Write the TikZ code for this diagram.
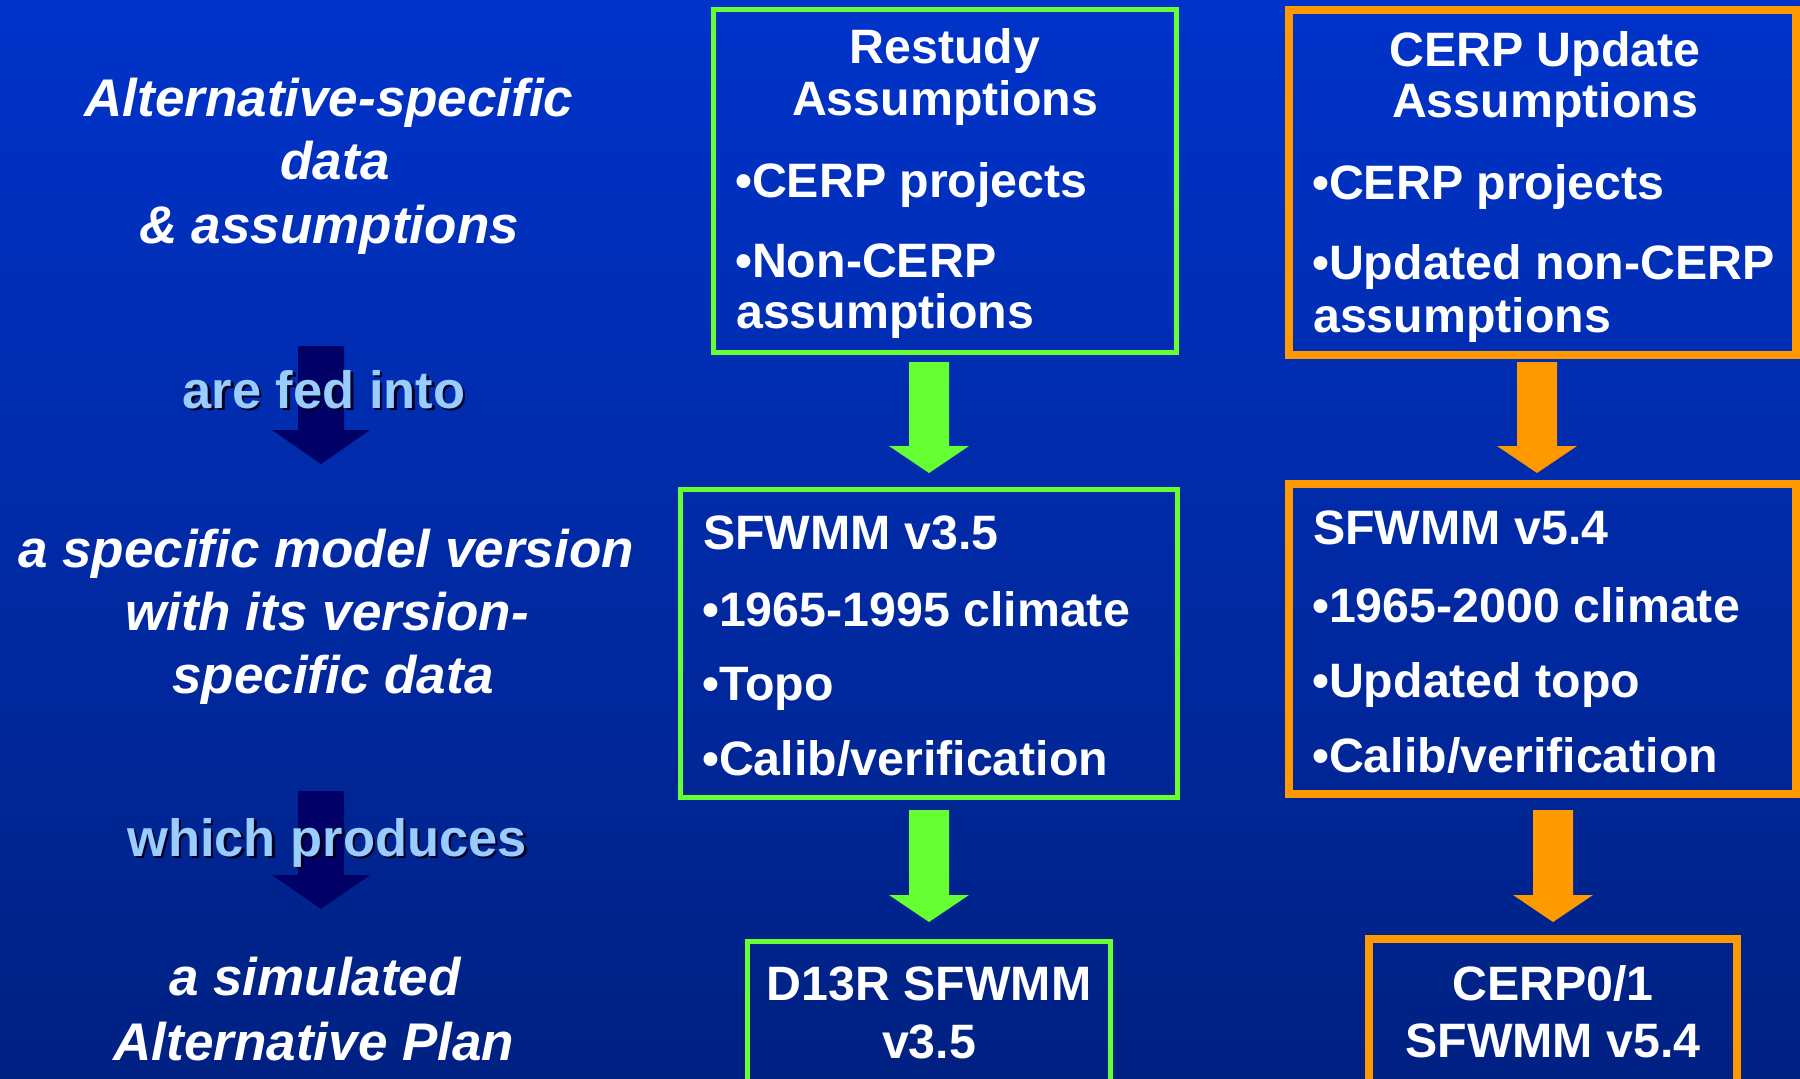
\documentclass[tikz,border=0pt]{standalone}
\usepackage{fontspec}
\setmainfont{Liberation Sans}
\usetikzlibrary{calc}
\definecolor{bgtop}{RGB}{0,51,202}
\definecolor{bgbot}{RGB}{0,33,130}
\definecolor{grn}{HTML}{66FF33}
\definecolor{org}{HTML}{FF9900}
\definecolor{darknavy}{HTML}{000066}
\definecolor{lblue}{HTML}{99CCFF}
\definecolor{shadowc}{HTML}{000022}
% #1 colour, #2 start, #3 tip, #4 half shaft, #5 half head, #6 head length
\newcommand\fatarrow[6]{%
  \fill[#1] let \p1=(#2), \p2=(#3) in
    (\x1-#4pt,\y1) -- (\x1+#4pt,\y1) -- (\x1+#4pt,\y2+#6pt) -- (\x1+#5pt,\y2+#6pt)
    -- (\x2,\y2) -- (\x1-#5pt,\y2+#6pt) -- (\x1-#4pt,\y2+#6pt) -- cycle;}
\begin{document}
\begin{tikzpicture}[x=1pt,y=-1pt,
  gbox/.style={draw=grn, line width=5pt, inner sep=0pt, outer sep=0pt},
  obox/.style={draw=org, line width=8pt, inner sep=0pt, outer sep=0pt},
  boxtxt/.style={text=white, font=\fontsize{48.3}{58}\selectfont\bfseries, inner sep=0pt},
  lefttxt/.style={text=white, font=\fontsize{53}{64}\selectfont\bfseries\itshape, inner sep=0pt, anchor=base},
  linktxt/.style={text=lblue, font=\fontsize{52.5}{62}\selectfont\bfseries, inner sep=0pt, anchor=base},
  shtxt/.style={text=shadowc, font=\fontsize{52.5}{62}\selectfont\bfseries, inner sep=0pt, anchor=base}
]
\useasboundingbox (0,0) rectangle (1800,1079);
\clip (0,0) rectangle (1800,1079);
\shade[top color=bgtop, bottom color=bgbot] (0,0) rectangle (1800,1079);

% ---------- boxes ----------
\node (rbox) [gbox, minimum width=463pt, minimum height=343pt] at (945,181) {};
\node (cbox) [obox, minimum width=507pt, minimum height=345pt] at (1542.5,182.5) {};
\node (sbox) [gbox, minimum width=497pt, minimum height=308pt] at (929,643.5) {};
\node (tbox) [obox, minimum width=507pt, minimum height=310pt] at (1542.5,639) {};
\node (dbox) [gbox, minimum width=363pt, minimum height=180pt] at (929,1031.5) {};
\node (ebox) [obox, minimum width=368pt, minimum height=181pt] at (1553,1029.5) {};

% ---------- block arrows ----------
\coordinate (ga1s) at (929,362);  \coordinate (ga1e) at (929,473);
\coordinate (oa1s) at (1537,362); \coordinate (oa1e) at (1537,473);
\coordinate (ga2s) at (929,810);  \coordinate (ga2e) at (929,922);
\coordinate (oa2s) at (1553,810); \coordinate (oa2e) at (1553,922);
\coordinate (na1s) at (321,346);  \coordinate (na1e) at (321,464);
\coordinate (na2s) at (321,791);  \coordinate (na2e) at (321,909);
\fatarrow{grn}{ga1s}{ga1e}{20}{40}{27}
\fatarrow{org}{oa1s}{oa1e}{20}{40}{27}
\fatarrow{grn}{ga2s}{ga2e}{20}{40}{27}
\fatarrow{org}{oa2s}{oa2e}{20}{40}{27}
\fatarrow{darknavy}{na1s}{na1e}{23}{49}{34}
\fatarrow{darknavy}{na2s}{na2e}{23}{49}{34}

% ---------- left column ----------
\node (l1a) [lefttxt] at (329,116) {Alternative-specific};
\node (l1b) [lefttxt] at (335,179) {data};
\node (l1c) [lefttxt] at (329,243) {\& assumptions};
\node (k1s) [shtxt] at (326.5,410.5) {are fed into};
\node (k1)  [linktxt] at (324,408) {are fed into};
\node (l2a) [lefttxt] at (326,567) {a specific model version};
\node (l2b) [lefttxt] at (327,630) {with its version-};
\node (l2c) [lefttxt] at (333,693) {specific data};
\node (k2s) [shtxt] at (329.5,858.5) {which produces};
\node (k2)  [linktxt] at (327,856) {which produces};
\node (l3a) [lefttxt] at (315,995) {a simulated};
\node (l3b) [lefttxt] at (314,1060) {Alternative Plan};

% ---------- Restudy box text ----------
\node (r1) [boxtxt, anchor=base] at (945,63) {Restudy};
\node (r2) [boxtxt, anchor=base] at (945,115) {Assumptions};
\node (r3) [boxtxt, anchor=base west] at (735,197) {•CERP projects};
\node (r4) [boxtxt, anchor=base west] at (735,277) {•Non-CERP};
\node (r5) [boxtxt, anchor=base west] at (736,328) {assumptions};

% ---------- CERP Update box text ----------
\node (c1) [boxtxt, anchor=base] at (1545,66) {CERP Update};
\node (c2) [boxtxt, anchor=base] at (1545,117) {Assumptions};
\node (c3) [boxtxt, anchor=base west] at (1312,199) {•CERP projects};
\node (c4) [boxtxt, anchor=base west] at (1312,279) {•Updated non-CERP};
\node (c5) [boxtxt, anchor=base west] at (1313,332) {assumptions};

% ---------- SFWMM v3.5 box text ----------
\node (s1) [boxtxt, anchor=base west] at (703,549) {SFWMM v3.5};
\node (s2) [boxtxt, anchor=base west] at (702,626) {•1965-1995 climate};
\node (s3) [boxtxt, anchor=base west] at (702,700) {•Topo};
\node (s4) [boxtxt, anchor=base west] at (702,775) {•Calib/verification};

% ---------- SFWMM v5.4 box text ----------
\node (t1) [boxtxt, anchor=base west] at (1313,544) {SFWMM v5.4};
\node (t2) [boxtxt, anchor=base west] at (1312,622) {•1965-2000 climate};
\node (t3) [boxtxt, anchor=base west] at (1312,697) {•Updated topo};
\node (t4) [boxtxt, anchor=base west] at (1312,772) {•Calib/verification};

% ---------- result boxes text ----------
\node (d1) [boxtxt, anchor=base] at (929,1000) {D13R SFWMM};
\node (d2) [boxtxt, anchor=base] at (929,1058) {v3.5};
\node (e1) [boxtxt, anchor=base] at (1553,1000) {CERP0/1};
\node (e2) [boxtxt, anchor=base] at (1553,1057) {SFWMM v5.4};
\end{tikzpicture}
\end{document}
